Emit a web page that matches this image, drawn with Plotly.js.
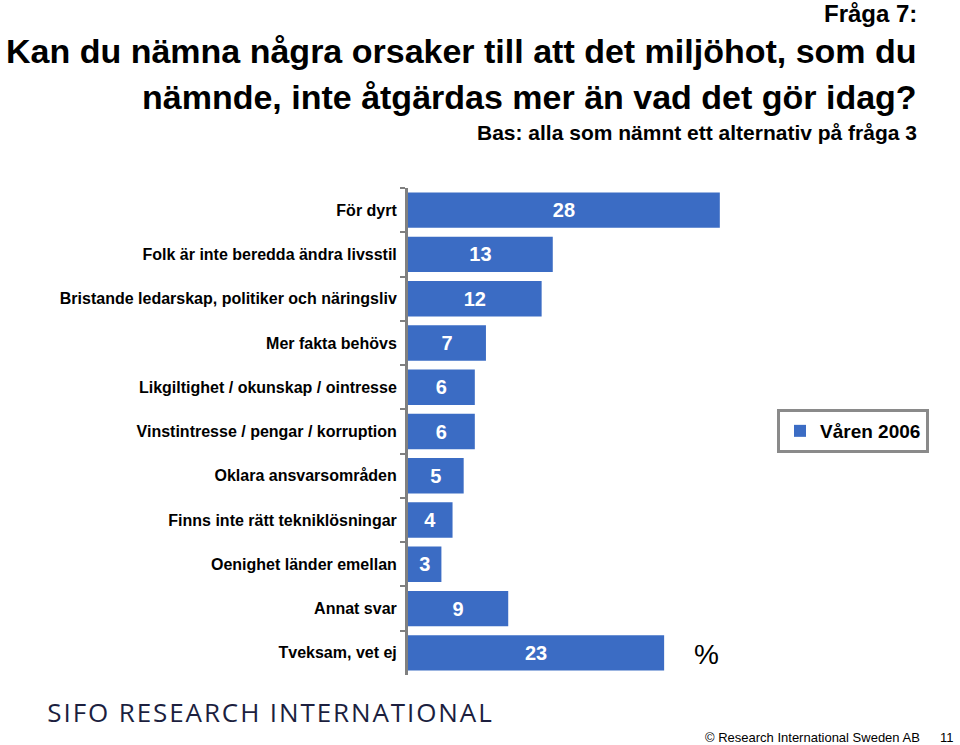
<!DOCTYPE html>
<html>
<head>
<meta charset="utf-8">
<script src="https://cdn.plot.ly/plotly-3.0.1.min.js"></script>
<style>html,body{margin:0;padding:0;background:#fff;}#chart{width:960px;height:745px;}</style>
</head>
<body>
<div id="chart"></div>
<script>
const categories = [
  "För dyrt",
  "Folk är inte beredda ändra livsstil",
  "Bristande ledarskap, politiker och näringsliv",
  "Mer fakta behövs",
  "Likgiltighet / okunskap / ointresse",
  "Vinstintresse / pengar / korruption",
  "Oklara ansvarsområden",
  "Finns inte rätt tekniklösningar",
  "Oenighet länder emellan",
  "Annat svar",
  "Tveksam, vet ej"
];
const values = [28, 13, 12, 7, 6, 6, 5, 4, 3, 9, 23];
const seriesName = "Våren 2006";

const titleFont = "'Liberation Sans', Arial, sans-serif";
const arial = "'Liberation Sans', Arial, sans-serif";

const trace = {
  type: "bar",
  orientation: "h",
  y: categories,
  x: values,
  name: seriesName,
  marker: {color: "#3B6CC4"},
  text: values.map(String),
  textposition: "inside",
  insidetextanchor: "middle",
  textangle: 0,
  textfont: {family: arial, size: 20, color: "#ffffff", weight: "bold"},
  hoverinfo: "none",
  showlegend: true
};

const L = 408, R = 160, T = 188, B = 70;
const pw = 960 - L - R, ph = 745 - T - B;
function px(x){ return (x - L) / pw; }
function py(y){ return (745 - B - y) / ph; }

const layout = {
  width: 960, height: 745,
  paper_bgcolor: "#ffffff", plot_bgcolor: "#ffffff",
  margin: {l: L, r: R, t: T, b: B, pad: 0},
  bargap: 0.2,
  showlegend: true,
  legend: {
    x: px(777), y: py(409), xanchor: "left", yanchor: "top",
    font: {family: arial, size: 19, color: "#000", weight: "bold"},
    bordercolor: "#8a8a8a", borderwidth: 3, bgcolor: "#fff",
    itemwidth: 30
  },
  xaxis: {visible: false, range: [0, 35.2], fixedrange: true},
  yaxis: {
    type: "category", autorange: "reversed",
    showline: true, linecolor: "#808080", linewidth: 3,
    ticks: "outside", ticklen: 5, tickwidth: 2, tickcolor: "#808080",
    tickson: "boundaries",
    showgrid: false, zeroline: false,
    tickfont: {family: arial, size: 16, color: "#000", weight: "bold"},
    ticklabelstandoff: 5
  }
};

layout.annotations = [
  {text: "Fråga 7:", x: px(919), y: py(14), xanchor: "right", yanchor: "middle",
   font: {family: titleFont, size: 24, color: "#000", weight: "bold"}},
  {text: "Kan du nämna några orsaker till att det miljöhot, som du", x: px(919), y: py(51), xanchor: "right", yanchor: "middle",
   font: {family: titleFont, size: 34, color: "#000", weight: "bold"}},
  {text: "nämnde, inte åtgärdas mer än vad det gör idag?", x: px(919), y: py(97), xanchor: "right", yanchor: "middle",
   font: {family: titleFont, size: 34, color: "#000", weight: "bold"}},
  {text: "Bas: alla som nämnt ett alternativ på fråga 3", x: px(919), y: py(132), xanchor: "right", yanchor: "middle",
   font: {family: titleFont, size: 21, color: "#000", weight: "bold"}},
  {text: "%", x: px(706), y: py(654), xanchor: "center", yanchor: "middle",
   font: {family: arial, size: 28, color: "#000"}},
  {text: "SIFO RESEARCH INTERNATIONAL", x: px(270), y: py(712), xanchor: "center", yanchor: "middle",
   font: {family: "'Open Sans', 'Noto Sans', sans-serif", size: 26, color: "#1c1f3f"}},
  {text: "© Research International Sweden AB", x: px(922), y: py(737), xanchor: "right", yanchor: "middle",
   font: {family: arial, size: 13, color: "#000"}},
  {text: "11", x: px(956), y: py(737), xanchor: "right", yanchor: "middle",
   font: {family: arial, size: 13, color: "#000"}}
].map(a => Object.assign({xref: "paper", yref: "paper", showarrow: false}, a));

Plotly.newPlot("chart", [trace], layout, {displayModeBar: false, staticPlot: true}).then(gd => {
  // widen the logo lettering like the reference wordmark
  gd.querySelectorAll(".annotation-text").forEach(t => {
    if (t.textContent === "SIFO RESEARCH INTERNATIONAL") {
      t.style.letterSpacing = "1.9px";
    }
  });
});
</script>
</body>
</html>
